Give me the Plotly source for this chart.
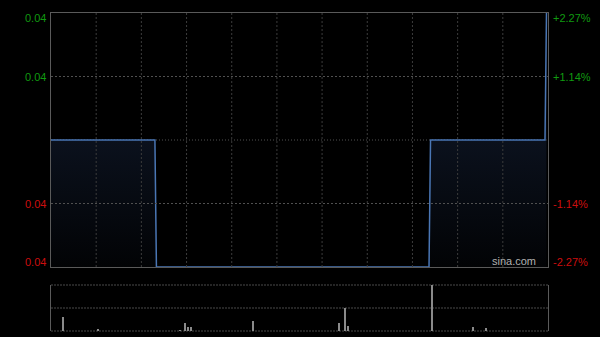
import plotly.graph_objects as go

# ---- data ----
minutes = [0, 69, 70, 251, 252, 328, 329]
prices = [0.044, 0.044, 0.043, 0.043, 0.044, 0.044, 0.045]
prev_close = 0.044
y_low, y_high = 0.043, 0.045
grid_prices = [0.0435, 0.0445]

vol_minutes = [8, 31, 86, 89, 91, 93, 134, 191, 195, 197, 253, 280, 289]
volumes = [143000, 20000, 10000, 83000, 40000, 40000, 103000, 83000, 227000, 50000, 460000, 43000, 30000]
vol_max = 460000

left_labels = ["0.04", "0.04", "0.04", "0.04"]
right_labels = ["+2.27%", "+1.14%", "-1.14%", "-2.27%"]
label_values = [0.045, 0.0445, 0.0435, 0.043]
label_colors = ["#109a10", "#109a10", "#cc0e0e", "#cc0e0e"]
label_shifts = [-5, 0, 0, 5]

total_minutes = 330
grid_minutes = list(range(30, total_minutes, 30))

fig = go.Figure()

fig.add_trace(go.Scatter(
    x=minutes, y=prices, mode="lines",
    line=dict(color="#4a76b4", width=1.5),
    fill="tozeroy",
    fillgradient=dict(type="vertical", start=y_low, stop=prev_close,
                      colorscale=[[0, "rgb(2,3,5)"], [1, "rgb(11,17,29)"]]),
    xaxis="x", yaxis="y", hoverinfo="skip", showlegend=False,
))

fig.add_trace(go.Bar(
    x=vol_minutes, y=volumes, width=0.7,
    marker=dict(color="#8a8a8a", line=dict(width=0)),
    xaxis="x2", yaxis="y2", hoverinfo="skip", showlegend=False,
))

border = "#5a5a5a"

fig.update_layout(
    width=600, height=337,
    margin=dict(l=51, r=52, t=13, b=6),
    paper_bgcolor="black", plot_bgcolor="black",
    bargap=0,
    xaxis=dict(domain=[0, 1], range=[0, total_minutes], anchor="y",
               showgrid=False, showticklabels=False, ticks="", zeroline=False,
               showline=True, mirror=True, linecolor=border, linewidth=1),
    yaxis=dict(domain=[64/318, 1], range=[y_low, y_high], anchor="x",
               showgrid=False, showticklabels=False, ticks="", zeroline=False,
               showline=True, mirror=True, linecolor=border, linewidth=1),
    xaxis2=dict(domain=[0, 1], range=[0, total_minutes], anchor="y2",
                showgrid=False, showticklabels=False, ticks="", zeroline=False,
                showline=False),
    yaxis2=dict(domain=[0, 46/318], range=[0, vol_max], anchor="x2",
                showgrid=False, showticklabels=False, ticks="", zeroline=False,
                showline=True, mirror=True, linecolor=border, linewidth=1),
)

shapes = []
for m in grid_minutes:
    shapes.append(dict(type="line", xref="x", yref="y domain", x0=m, x1=m, y0=0, y1=1,
                       line=dict(color="#3c3c3c", width=1, dash="2px,2px"), layer="above"))
for p in grid_prices:
    shapes.append(dict(type="line", xref="x domain", yref="y", x0=0, x1=1, y0=p, y1=p,
                       line=dict(color="#505050", width=1, dash="2px,2px"), layer="above"))
shapes.append(dict(type="line", xref="x domain", yref="y", x0=0, x1=1, y0=prev_close, y1=prev_close,
                   line=dict(color="#505050", width=1, dash="1px,2px"), layer="below"))
for v in [0, 0.5, 1]:
    shapes.append(dict(type="line", xref="x2 domain", yref="y2 domain", x0=0, x1=1, y0=v, y1=v,
                       line=dict(color="#4a4a4a", width=1, dash="2px,1px"), layer="below"))
fig.update_layout(shapes=shapes)

annotations = []
for txt, val, col, sh in zip(left_labels, label_values, label_colors, label_shifts):
    annotations.append(dict(text=txt, xref="paper", x=0, xanchor="right", xshift=-3,
                            yref="y", y=val, yanchor="middle", yshift=sh, showarrow=False,
                            font=dict(family="Liberation Sans, Arial, sans-serif", size=11, color=col)))
for txt, val, col, sh in zip(right_labels, label_values, label_colors, label_shifts):
    annotations.append(dict(text=txt, xref="paper", x=1, xanchor="left", xshift=3,
                            yref="y", y=val, yanchor="middle", yshift=sh, showarrow=False,
                            font=dict(family="Liberation Sans, Arial, sans-serif", size=11, color=col)))
annotations.append(dict(text="sina.com", xref="paper", x=1, xanchor="right", xshift=-10,
                        yref="y", y=y_low, yanchor="middle", yshift=6, showarrow=False,
                        font=dict(family="Liberation Sans, Arial, sans-serif", size=11, color="#b0b0b0")))
fig.update_layout(annotations=annotations)

fig.write_html("out.html")
